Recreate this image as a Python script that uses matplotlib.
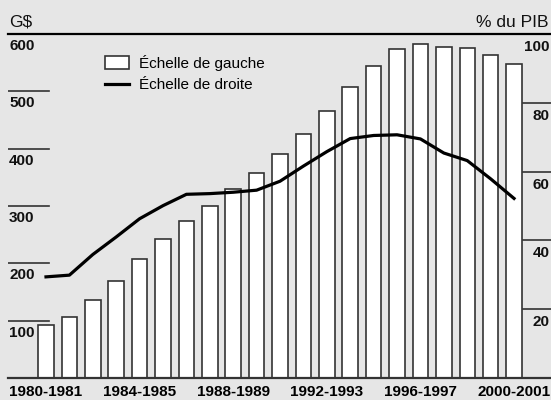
import matplotlib
matplotlib.use("Agg")
import matplotlib.pyplot as plt
from matplotlib import transforms
from matplotlib.patches import Patch
from matplotlib.lines import Line2D

plt.rcParams['font.family'] = ['Liberation Sans', 'DejaVu Sans']

categories = ["1980-1981", "1981-1982", "1982-1983", "1983-1984", "1984-1985",
              "1985-1986", "1986-1987", "1987-1988", "1988-1989", "1989-1990",
              "1990-1991", "1991-1992", "1992-1993", "1993-1994", "1994-1995",
              "1995-1996", "1996-1997", "1997-1998", "1998-1999", "1999-2000",
              "2000-2001"]
debt_gs = [92, 107, 136, 169, 208, 242, 273, 300, 330, 358, 390, 425, 465,
           508, 544, 573, 583, 578, 576, 564, 547]
debt_pct_gdp = [29.4, 29.9, 35.9, 41.0, 46.3, 50.1, 53.4, 53.6, 54.0, 54.6,
                57.2, 61.6, 65.8, 69.6, 70.5, 70.7, 69.5, 65.4, 63.2, 57.9, 52.2]
shown_labels = ["1980-1981", "1984-1985", "1988-1989", "1992-1993",
                "1996-1997", "2000-2001"]
left_ticks = [100, 200, 300, 400, 500, 600]
right_ticks = [20, 40, 60, 80, 100]
legend_labels = ["Échelle de gauche", "Échelle de droite"]

BG = "#e6e6e6"
EDGE = "#333333"

fig = plt.figure(figsize=(5.51, 4.0), dpi=100, facecolor=BG)
ax = fig.add_axes([8/551, 22/400, 543/551, 344/400])
ax.set_facecolor(BG)
ax2 = ax.twinx()

x = list(range(len(categories)))
ax.bar(x, debt_gs, width=0.66, color="white", edgecolor=EDGE, linewidth=1.2, zorder=3)
ax.set_xlim(-1.624, 21.58)
ax.set_ylim(0, 600)
ax2.set_ylim(0, 100)
ax2.plot(x, debt_pct_gdp, color="black", linewidth=2.3, zorder=5)

for a in (ax, ax2):
    for s in ("left", "right"):
        a.spines[s].set_visible(False)
    a.spines["top"].set_visible(False)
    a.spines["bottom"].set_visible(False)
    a.set_yticks([])

ax.axhline(600, color="black", linewidth=1.6, zorder=6, clip_on=False)
ax.axhline(0, color=EDGE, linewidth=1.6, zorder=6, clip_on=False)

# x ticks
ax.set_xticks([categories.index(c) for c in shown_labels])
ax.set_xticklabels(shown_labels, fontsize=11, fontweight="bold")
ax.tick_params(axis="x", length=0, pad=5)

# left ticks
tl = transforms.blended_transform_factory(ax.transAxes, ax.transData)
tl_off = transforms.offset_copy(tl, fig=fig, x=0, y=-5, units="dots")
for v in left_ticks:
    if v != 600:
        ax.axhline(v, xmin=0, xmax=41/543, color=EDGE, linewidth=1.2, zorder=2)
    ax.text(1/543, v, str(v), transform=tl_off, ha="left", va="top",
            fontsize=11, fontweight="bold", color="#111111")

# right ticks
tr = transforms.blended_transform_factory(ax2.transAxes, ax2.transData)
tr_off = transforms.offset_copy(tr, fig=fig, x=0, y=-6, units="dots")
for v in right_ticks:
    if v != 100:
        ax2.axhline(v, xmin=515/543, xmax=1, color=EDGE, linewidth=1.2, zorder=2)
    ax2.text(541.5/543, v, str(v), transform=tr_off, ha="right", va="top",
             fontsize=11, fontweight="bold", color="#111111")

fig.text(9/551, 1 - 27/400, "G$", fontsize=12.5, ha="left", va="baseline", color="#111111")
fig.text(549/551, 1 - 27/400, "% du PIB", fontsize=12.5, ha="right", va="baseline", color="#111111")

handles = [Patch(facecolor="white", edgecolor=EDGE, linewidth=1.2),
           Line2D([0], [0], color="black", linewidth=2.3)]
fig.legend(handles, legend_labels, loc="upper left",
           bbox_to_anchor=(105/551, 1 - 55/400), frameon=False,
           fontsize=11, handlelength=1.6, handleheight=0.9,
           handletextpad=0.6, labelspacing=0.45, borderpad=0, borderaxespad=0)

fig.savefig("out.png", dpi=100, facecolor=BG)
